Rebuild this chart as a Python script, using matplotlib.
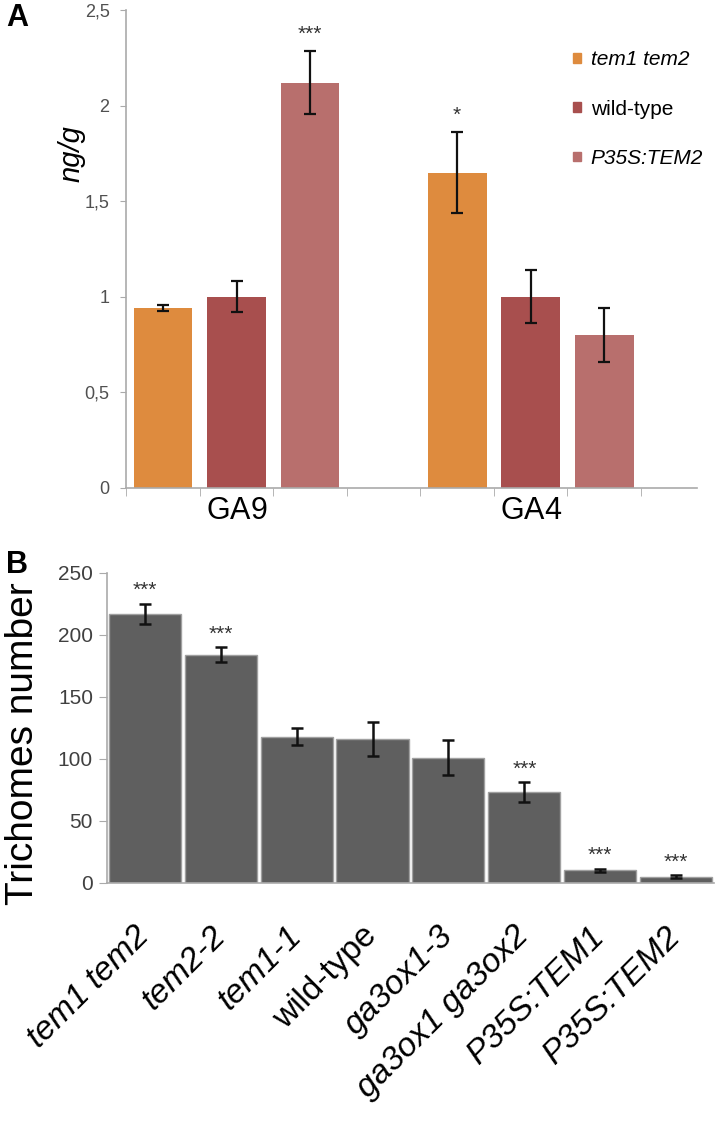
import matplotlib.pyplot as plt
from matplotlib.patches import Patch

# Panel A: GA content
hormones = ['GA$\\mathit{9}$', 'GA$\\mathit{4}$']
genotypes_a = ['tem1 tem2', 'wild-type', 'P35S:TEM2']
ga9_vals = [0.94, 1.00, 2.12]
ga9_err = [0.015, 0.08, 0.165]
ga4_vals = [1.65, 1.00, 0.80]
ga4_err = [0.21, 0.14, 0.14]
ga9_stars = ['', '', '***']
ga4_stars = ['*', '', '']
colors_a = ['#DE8B3E', '#A84F4E', '#B86F6D']

# Panel B: trichomes
genotypes_b = ['tem1 tem2', 'tem2-2', 'tem1-1', 'wild-type', 'ga3ox1-3',
               'ga3ox1 ga3ox2', 'P35S:TEM1', 'P35S:TEM2']
trich_vals = [217, 184, 118, 116, 101, 73, 10, 5]
trich_err = [8, 6, 7, 14, 14, 8, 1.5, 1.2]
trich_stars = ['***', '***', '', '', '', '***', '***', '***']

plt.rcParams['font.family'] = ['Liberation Sans', 'DejaVu Sans']
plt.rcParams['mathtext.fontset'] = 'custom'
plt.rcParams['mathtext.rm'] = 'Liberation Sans'
plt.rcParams['mathtext.it'] = 'Liberation Sans:italic'

fig = plt.figure(figsize=(7.17, 11.29), dpi=100)

# ---------- Panel A ----------
axA = fig.add_axes([0.176, 0.568, 0.796, 0.423])
pos = [[0, 1, 2], [4, 5, 6]]
for g, (vals, errs, stars) in enumerate([(ga9_vals, ga9_err, ga9_stars),
                                         (ga4_vals, ga4_err, ga4_stars)]):
    for i in range(3):
        x = pos[g][i]
        axA.bar(x, vals[i], width=0.8, color=colors_a[i])
        axA.errorbar(x, vals[i], yerr=errs[i], fmt='none', ecolor='#111111',
                     elinewidth=1.6, capsize=4, capthick=1.6)
        if stars[i]:
            axA.text(x, vals[i] + errs[i] + 0.04, stars[i], ha='center',
                     va='bottom', fontsize=15, color='#333333')

axA.set_xlim(-0.5, 7.26)
axA.set_ylim(0, 2.5)
axA.set_yticks([0, 0.5, 1, 1.5, 2, 2.5])
axA.set_yticklabels(['0', '0,5', '1', '1,5', '2', '2,5'], fontsize=13,
                    color='#505050')
axA.set_xticks([1, 5])
axA.set_xticklabels(hormones, fontsize=22)
axA.set_xticks([-0.5 + k for k in range(8)], minor=True)
axA.tick_params(axis='x', which='major', length=0, pad=6)
axA.tick_params(axis='x', which='minor', length=6, color='#AAAAAA', direction='out')
axA.tick_params(axis='y', length=4, color='#AAAAAA', pad=8)
for s in ['top', 'right']:
    axA.spines[s].set_visible(False)
for s in ['left', 'bottom']:
    axA.spines[s].set_color('#AAAAAA')
    axA.spines[s].set_linewidth(1.2)
axA.set_ylabel('ng/g', fontsize=21, style='italic')
axA.yaxis.set_label_coords(-0.072, 0.70)

handles = [Patch(color=c) for c in colors_a]
leg = fig.legend(handles, genotypes_a, loc='upper left',
                 bbox_to_anchor=(0.785, 0.9645), frameon=False, borderpad=0,
                 handlelength=0.35, handleheight=0.35, handletextpad=0.48,
                 labelspacing=1.45, fontsize=15)
for t, lab in zip(leg.get_texts(), genotypes_a):
    if lab != 'wild-type':
        t.set_style('italic')

# ---------- Panel B ----------
axB = fig.add_axes([0.149, 0.218, 0.847, 0.2745])
xb = range(len(genotypes_b))
axB.bar(xb, trich_vals, width=0.95, color='#5F5F5F', edgecolor='#A0A0A0',
        linewidth=1.0)
axB.errorbar(xb, trich_vals, yerr=trich_err, fmt='none', ecolor='#111111',
             elinewidth=1.8, capsize=4, capthick=1.8)
for x, v, e, s in zip(xb, trich_vals, trich_err, trich_stars):
    if s:
        axB.text(x, v + e + 3, s, ha='center', va='bottom', fontsize=15,
                 color='#333333')

axB.set_xlim(-0.5, 7.5)
axB.set_ylim(0, 250)
axB.set_yticks([0, 50, 100, 150, 200, 250])
axB.set_yticklabels(['0', '50', '100', '150', '200', '250'], fontsize=15,
                    color='#404040')
axB.set_xticks(list(xb))
axB.set_xticklabels(genotypes_b, rotation=45, ha='right', va='center',
                    rotation_mode='anchor', fontsize=24)
for t, lab in zip(axB.get_xticklabels(), genotypes_b):
    if lab != 'wild-type':
        t.set_style('italic')
axB.tick_params(axis='x', length=0, pad=35)
axB.tick_params(axis='y', length=6, color='#AAAAAA', pad=4)
for s in ['top', 'right']:
    axB.spines[s].set_visible(False)
for s in ['left', 'bottom']:
    axB.spines[s].set_color('#AAAAAA')
    axB.spines[s].set_linewidth(1.2)
axB.set_ylabel('Trichomes number', fontsize=28)
axB.yaxis.set_label_coords(-0.108, 0.45)

fig.text(0.008, 0.984, 'A', fontsize=22, fontweight='bold', va='center')
fig.text(0.008, 0.4995, 'B', fontsize=22, fontweight='bold', va='center')

fig.savefig('out.png', dpi=100)
